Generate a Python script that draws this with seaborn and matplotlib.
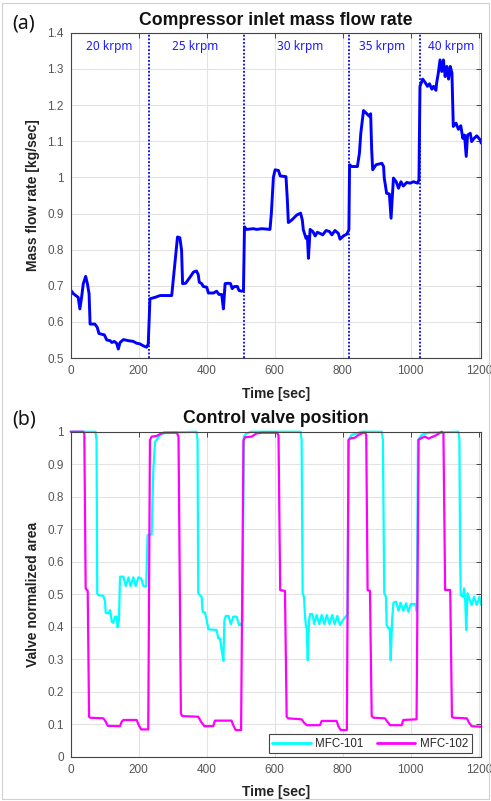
import matplotlib
matplotlib.use("Agg")
import matplotlib.pyplot as plt
import numpy as np
import pandas as pd
import seaborn as sns
from matplotlib.ticker import FuncFormatter, MultipleLocator
from matplotlib.patches import Rectangle

# ---- measured series: (time [s], value) ----
mass_flow = [
    (0, 0.688), (8, 0.678), (22, 0.668), (27, 0.636), (32, 0.668), (37, 0.706),
    (44, 0.726), (49, 0.706), (54, 0.678), (57, 0.594), (71, 0.594), (78, 0.585),
    (83, 0.568), (99, 0.564), (106, 0.550), (116, 0.548), (121, 0.543), (128, 0.546),
    (135, 0.541), (140, 0.525), (145, 0.543), (155, 0.551), (170, 0.548), (184, 0.546),
    (194, 0.541), (204, 0.539), (213, 0.534), (223, 0.530), (228, 0.539), (233, 0.664),
    (248, 0.668), (263, 0.673), (297, 0.673), (307, 0.770), (314, 0.835), (321, 0.833),
    (326, 0.798), (329, 0.706), (338, 0.707), (351, 0.724), (361, 0.738), (370, 0.741),
    (375, 0.731), (378, 0.710), (385, 0.706), (390, 0.698), (400, 0.696), (405, 0.680),
    (420, 0.680), (429, 0.685), (436, 0.676), (444, 0.676), (449, 0.636), (454, 0.706),
    (464, 0.707), (470, 0.706), (475, 0.692), (481, 0.698), (490, 0.698), (495, 0.687),
    (503, 0.685), (508, 0.687), (511, 0.863), (517, 0.856), (537, 0.858), (547, 0.856),
    (562, 0.858), (586, 0.856), (590, 0.900), (596, 1.000), (601, 1.021), (611, 1.019),
    (616, 1.004), (633, 1.002), (637, 0.938), (640, 0.875), (650, 0.882), (665, 0.896),
    (676, 0.901), (681, 0.882), (684, 0.855), (692, 0.831), (696, 0.836), (699, 0.776),
    (704, 0.856), (712, 0.850), (719, 0.838), (725, 0.848), (733, 0.845), (741, 0.841),
    (751, 0.853), (761, 0.850), (768, 0.841), (777, 0.853), (787, 0.845), (792, 0.829),
    (802, 0.838), (812, 0.843), (818, 0.855), (820, 1.035), (826, 1.030), (843, 1.030),
    (849, 1.067), (853, 1.122), (861, 1.185), (871, 1.176), (878, 1.169), (882, 1.176),
    (885, 1.076), (888, 1.021), (898, 1.035), (915, 1.039), (920, 1.030), (922, 0.998),
    (929, 0.956), (937, 0.954), (942, 0.887), (949, 0.998), (957, 0.988), (964, 0.970),
    (971, 0.988), (978, 0.976), (988, 0.986), (998, 0.984), (1008, 0.988), (1020, 0.984),
    (1024, 0.993), (1027, 1.252), (1035, 1.272), (1042, 1.263), (1049, 1.252),
    (1055, 1.259), (1062, 1.244), (1067, 1.252), (1074, 1.241), (1076, 1.261),
    (1081, 1.289), (1086, 1.325), (1091, 1.293), (1096, 1.325), (1101, 1.279),
    (1106, 1.307), (1111, 1.272), (1116, 1.307), (1121, 1.289), (1123, 1.215),
    (1125, 1.141), (1133, 1.150), (1140, 1.133), (1147, 1.143), (1153, 1.108),
    (1158, 1.117), (1163, 1.058), (1167, 1.117), (1175, 1.122), (1179, 1.099),
    (1186, 1.108), (1194, 1.115), (1204, 1.104), (1207, 1.095),
]

mfc101 = [
    (0, 1.0), (73, 1.0), (76, 0.974), (78, 0.503), (81, 0.497), (96, 0.495),
    (101, 0.477), (103, 0.443), (111, 0.441), (116, 0.451), (121, 0.415), (125, 0.412),
    (130, 0.431), (135, 0.431), (138, 0.398), (142, 0.420), (145, 0.554), (155, 0.554),
    (162, 0.525), (170, 0.552), (176, 0.525), (184, 0.552), (191, 0.525), (199, 0.552),
    (207, 0.549), (214, 0.525), (222, 0.525), (226, 0.682), (238, 0.684), (243, 0.882),
    (248, 0.969), (256, 0.979), (263, 0.990), (277, 0.997), (370, 1.0), (373, 0.974),
    (375, 0.503), (380, 0.497), (385, 0.492), (388, 0.446), (395, 0.443), (400, 0.420),
    (405, 0.392), (429, 0.390), (434, 0.364), (439, 0.364), (444, 0.328), (449, 0.295),
    (452, 0.420), (456, 0.433), (464, 0.433), (471, 0.408), (478, 0.431), (488, 0.431),
    (495, 0.405), (498, 0.405), (505, 0.415), (509, 0.985), (517, 0.995), (532, 1.0),
    (676, 1.0), (679, 0.974), (682, 0.503), (686, 0.492), (689, 0.431), (692, 0.400),
    (694, 0.400), (697, 0.297), (701, 0.420), (704, 0.439), (711, 0.439), (716, 0.408),
    (723, 0.436), (731, 0.408), (738, 0.436), (746, 0.408), (753, 0.436), (761, 0.408),
    (769, 0.436), (776, 0.408), (784, 0.433), (792, 0.405), (800, 0.420), (810, 0.433),
    (814, 0.436), (817, 0.974), (826, 0.990), (841, 0.995), (856, 1.0), (915, 1.0),
    (918, 0.974), (922, 0.503), (927, 0.492), (929, 0.405), (934, 0.395), (938, 0.395),
    (941, 0.297), (945, 0.420), (949, 0.474), (957, 0.477), (964, 0.449), (970, 0.474),
    (978, 0.449), (986, 0.472), (993, 0.446), (1000, 0.470), (1013, 0.470),
    (1018, 0.446), (1021, 0.974), (1032, 0.990), (1052, 0.997), (1140, 1.0),
    (1143, 0.974), (1145, 0.626), (1147, 0.497), (1153, 0.492), (1157, 0.518),
    (1160, 0.482), (1163, 0.390), (1167, 0.503), (1172, 0.487), (1179, 0.467),
    (1186, 0.492), (1194, 0.467), (1202, 0.492), (1207, 0.467),
]

mfc102 = [
    (0, 1.0), (37, 1.0), (40, 0.995), (44, 0.518), (50, 0.510), (54, 0.123),
    (57, 0.120), (96, 0.118), (103, 0.108), (109, 0.095), (145, 0.094), (150, 0.108),
    (155, 0.113), (194, 0.113), (199, 0.100), (207, 0.084), (228, 0.084), (233, 0.974),
    (238, 0.985), (253, 0.987), (263, 0.993), (273, 0.997), (312, 0.997), (317, 0.985),
    (324, 0.133), (328, 0.125), (375, 0.123), (383, 0.108), (393, 0.094), (419, 0.094),
    (424, 0.111), (473, 0.111), (478, 0.097), (485, 0.082), (501, 0.082), (508, 0.974),
    (513, 0.983), (532, 0.985), (547, 0.995), (562, 0.997), (606, 0.997), (611, 0.990),
    (616, 0.513), (630, 0.510), (635, 0.123), (640, 0.118), (679, 0.115), (686, 0.105),
    (694, 0.097), (733, 0.097), (738, 0.110), (782, 0.110), (787, 0.094), (794, 0.082),
    (812, 0.082), (817, 0.974), (821, 0.979), (836, 0.982), (846, 0.990), (861, 0.997),
    (866, 0.997), (869, 0.990), (873, 0.513), (880, 0.510), (885, 0.125), (890, 0.120),
    (924, 0.118), (931, 0.108), (939, 0.097), (973, 0.097), (978, 0.113), (1017, 0.115),
    (1023, 0.975), (1030, 0.980), (1042, 0.985), (1052, 0.979), (1076, 0.990),
    (1091, 1.0), (1096, 0.995), (1101, 0.513), (1116, 0.513), (1121, 0.123),
    (1125, 0.120), (1165, 0.118), (1171, 0.105), (1179, 0.094), (1207, 0.092),
]

speed_change_t = [231, 509, 819, 1028]
speed_labels = ["20 krpm", "25 krpm", "30 krpm", "35 krpm", "40 krpm"]
speed_label_t = [112, 367, 674, 915, 1118]

x_ticks = [0, 200, 400, 600, 800, 1000, 1200]

flow_df = pd.DataFrame(mass_flow, columns=["t", "flow"])
valve_df = pd.concat([
    pd.DataFrame(mfc101, columns=["t", "area"]).assign(valve="MFC-101"),
    pd.DataFrame(mfc102, columns=["t", "area"]).assign(valve="MFC-102"),
], ignore_index=True)

# ---- style ----
sns.set_style("whitegrid")
plt.rcParams["font.family"] = ["Liberation Sans", "DejaVu Sans"]
plt.rcParams["axes.edgecolor"] = "#444444"
plt.rcParams["grid.color"] = "#e3e3e3"
plt.rcParams["grid.linewidth"] = 0.8

TICK_COLOR = "#555555"
LABEL_COLOR = "#222222"

fig = plt.figure(figsize=(4.91, 8.01), dpi=100)
left, width = 0.144, 0.836
ax1 = fig.add_axes([left, 0.553, width, 0.406])
ax2 = fig.add_axes([left, 0.0553, width, 0.4057])

fmt = FuncFormatter(lambda v, p: f"{v:g}")


def style_axes(ax):
    for s in ax.spines.values():
        s.set_visible(True)
        s.set_color("#444444")
        s.set_linewidth(0.8)
    ax.tick_params(direction="in", length=3.5, width=0.7, top=True, right=True,
                   colors="#444444", labelcolor=TICK_COLOR, labelsize=8.5, pad=5)
    ax.set_xlim(0, 1207)
    ax.set_xticks(x_ticks)
    ax.yaxis.set_major_formatter(fmt)
    ax.grid(True, color="#e3e3e3", linewidth=0.8)
    ax.set_axisbelow(True)


# ---- (a) compressor inlet mass flow ----
sns.lineplot(data=flow_df, x="t", y="flow", ax=ax1, color="#0000ff",
             linewidth=2.1, estimator=None, sort=False)
for t in speed_change_t:
    ax1.axvline(t, color="#0000ff", linestyle=(0, (1, 1)), linewidth=1.3)
for lab, t in zip(speed_labels, speed_label_t):
    ax1.text(t, 1.362, lab, color="#1a1aff", fontsize=8.5, ha="center", va="center",
             family=["Noto Sans", "DejaVu Sans"])
style_axes(ax1)
ax1.set_ylim(0.5, 1.4)
ax1.yaxis.set_major_locator(MultipleLocator(0.1))
ax1.set_title("Compressor inlet mass flow rate", fontsize=12.7, fontweight="bold",
              color="#111111", pad=6)
ax1.set_xlabel("Time [sec]", fontsize=10, fontweight="bold", color=LABEL_COLOR, labelpad=7)
ax1.set_ylabel("Mass flow rate [kg/sec]", fontsize=10, fontweight="bold",
               color=LABEL_COLOR, labelpad=5)

# ---- (b) control valve position ----
sns.lineplot(data=valve_df, x="t", y="area", hue="valve", ax=ax2,
             palette={"MFC-101": "#00ffff", "MFC-102": "#ff00ff"},
             linewidth=1.6, estimator=None, sort=False)
for line in ax2.get_lines():
    line.set_clip_on(False)
style_axes(ax2)
ax2.set_ylim(0, 1)
ax2.yaxis.set_major_locator(MultipleLocator(0.1))
ax2.set_title("Control valve position", fontsize=12.7, fontweight="bold",
              color="#111111", pad=6)
ax2.set_xlabel("Time [sec]", fontsize=10, fontweight="bold", color=LABEL_COLOR, labelpad=7)
ax2.set_ylabel("Valve normalized area", fontsize=10, fontweight="bold",
               color=LABEL_COLOR, labelpad=5)
leg = ax2.legend(loc="lower right", ncol=2, fontsize=8.3, frameon=True, fancybox=False,
                 edgecolor="#444444", framealpha=1, handlelength=3.3,
                 borderaxespad=0.3, columnspacing=1.2, handletextpad=0.4,
                 borderpad=0.3, bbox_to_anchor=(0.985, 0.0))
leg.get_frame().set_linewidth(0.8)
for line in leg.get_lines():
    line.set_linewidth(2.0)

# panel tags
fig.text(12 / 491, 1 - 24 / 801, "(a)", fontsize=14, va="center", ha="left",
         family=["Noto Sans", "DejaVu Sans"], color="#111111")
fig.text(12 / 491, 1 - 420 / 801, "(b)", fontsize=14, va="center", ha="left",
         family=["Noto Sans", "DejaVu Sans"], color="#111111")

# thin frame around the figure
fig.patches.append(Rectangle((2 / 491, 2 / 801), 487 / 491, 796 / 801,
                             transform=fig.transFigure, fill=False,
                             edgecolor="#d0d0d0", linewidth=0.8))

fig.savefig("out.png", dpi=100)
